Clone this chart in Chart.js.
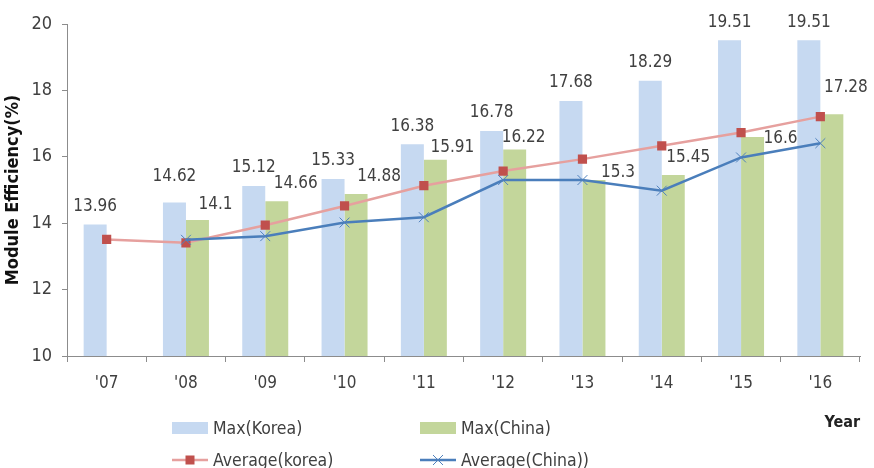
<!DOCTYPE html>
<html lang="en">
<head>
<meta charset="UTF-8">
<title>Module Efficiency</title>
<style>
    * { margin: 0; padding: 0; box-sizing: border-box; }
    body { background: #fff; width: 874px; height: 468px; overflow: hidden; }
    .chart-box { position: relative; width: 874px; height: 468px; }
</style>
</head>
<body>
<div class="chart-box"><canvas id="effChart"></canvas></div>

<script src="https://cdn.jsdelivr.net/npm/chart.js"></script>
<script>
// values
const years = ["'07", "'08", "'09", "'10", "'11", "'12", "'13", "'14", "'15", "'16"];
const maxKorea = [13.96, 14.62, 15.12, 15.33, 16.38, 16.78, 17.68, 18.29, 19.51, 19.51];
const maxChina = [null, 14.1, 14.66, 14.88, 15.91, 16.22, 15.3, 15.45, 16.6, 17.28];
const avgKorea = [13.51, 13.41, 13.94, 14.52, 15.13, 15.57, 15.93, 16.33, 16.73, 17.21];
const avgChina = [null, 13.5, 13.61, 14.02, 14.18, 15.3, 15.3, 14.98, 15.98, 16.41];
const yTicks = [10, 12, 14, 16, 18, 20];

const FONT = "'DejaVu Sans Condensed', 'DejaVu Sans', sans-serif";
const TEXT = '#404040';
const AXIS = '#8c8c8c';

// number labels over the bars (china ones were nudged by hand in the original)
const valueLabels = {
    id: 'valueLabels',
    afterDatasetsDraw(chart, args, opts) {
        const ctx = chart.ctx;
        ctx.save();
        ctx.font = opts.font;
        ctx.fillStyle = opts.color;
        ctx.textAlign = 'center';
        ctx.textBaseline = 'middle';
        opts.sets.forEach(function(s) {
            const meta = chart.getDatasetMeta(s.index);
            const values = chart.data.datasets[s.index].data;
            meta.data.forEach(function(bar, i) {
                if (values[i] == null) return;
                const shift = s.shift[i] || s.base;
                ctx.fillText(String(values[i]), bar.x + shift[0], bar.y + shift[1]);
            });
        });
        ctx.restore();
    }
};

// 2x2 legend under the axis, like the excel one
const gridLegend = {
    id: 'gridLegend',
    afterDraw(chart, args, opts) {
        const ctx = chart.ctx;
        ctx.save();
        ctx.font = opts.font;
        ctx.textBaseline = 'middle';
        ctx.textAlign = 'left';
        chart.data.datasets.forEach(function(ds, i) {
            const x = opts.cols[i % 2];
            const y = opts.rows[Math.floor(i / 2)];
            if (ds.type === 'line') {
                ctx.strokeStyle = ds.borderColor;
                ctx.lineWidth = ds.borderWidth;
                ctx.beginPath();
                ctx.moveTo(x, y);
                ctx.lineTo(x + 36, y);
                ctx.stroke();
                const mx = x + 18;
                if (ds.pointStyle === 'rect') {
                    ctx.fillStyle = ds.pointBackgroundColor;
                    ctx.fillRect(mx - 4.5, y - 4.5, 9, 9);
                } else {
                    ctx.strokeStyle = ds.pointBorderColor;
                    ctx.lineWidth = 1;
                    ctx.beginPath();
                    ctx.moveTo(mx - 5, y - 5); ctx.lineTo(mx + 5, y + 5);
                    ctx.moveTo(mx + 5, y - 5); ctx.lineTo(mx - 5, y + 5);
                    ctx.stroke();
                }
            } else {
                ctx.fillStyle = ds.backgroundColor;
                ctx.fillRect(x, y - 6, 36, 12);
            }
            ctx.fillStyle = opts.color;
            ctx.fillText(ds.label, x + 41, y + 1);
        });
        ctx.restore();
    }
};

const ctx = document.getElementById('effChart').getContext('2d');
new Chart(ctx, {
    type: 'bar',
    data: {
        labels: years,
        datasets: [
            {
                type: 'bar',
                label: 'Max(Korea)',
                data: maxKorea,
                backgroundColor: '#c6d9f1',
                barPercentage: 1,
                categoryPercentage: 0.58,
                order: 2
            },
            {
                type: 'bar',
                label: 'Max(China)',
                data: maxChina,
                backgroundColor: '#c3d69b',
                barPercentage: 1,
                categoryPercentage: 0.58,
                order: 2
            },
            {
                type: 'line',
                label: 'Average(korea)',
                data: avgKorea,
                borderColor: '#e6a09e',
                borderWidth: 2.5,
                pointStyle: 'rect',
                pointRadius: 6.5,
                pointBackgroundColor: '#c0504d',
                pointBorderColor: '#c0504d',
                pointBorderWidth: 0,
                tension: 0,
                order: 1
            },
            {
                type: 'line',
                label: 'Average(China))',
                data: avgChina,
                borderColor: '#4a7ebb',
                borderWidth: 2.5,
                pointStyle: 'crossRot',
                pointRadius: 7,
                pointBorderColor: '#4f81bd',
                pointBorderWidth: 1,
                tension: 0,
                order: 0
            }
        ]
    },
    options: {
        responsive: true,
        maintainAspectRatio: false,
        animation: false,
        layout: { padding: { top: 24, right: 14, bottom: 0, left: 0 } },
        plugins: {
            legend: { display: false },
            tooltip: { enabled: false },
            valueLabels: {
                font: '17px ' + FONT,
                color: TEXT,
                sets: [
                    { index: 0, base: [0, -18], shift: [null, [0, -26]] },
                    { index: 1, base: [18, -15], shift: [null, [18, -15], [19, -18], [23, -17], [17, -12], [9, -12], [24, -7], [15, -17], [28, 2], [14, -27]] }
                ]
            },
            gridLegend: {
                font: '17.5px ' + FONT,
                color: TEXT,
                cols: [172, 420],
                rows: [428, 460]
            }
        },
        scales: {
            x: {
                grid: { offset: true, drawOnChartArea: false, drawTicks: true, tickLength: 6, color: AXIS },
                border: { color: AXIS, width: 1 },
                ticks: { color: TEXT, font: { family: FONT, size: 17 }, padding: 11 },
                title: {
                    display: true,
                    text: 'Year',
                    align: 'end',
                    color: '#222',
                    font: { family: FONT, size: 16, weight: 'bold' },
                    padding: { top: 0, bottom: 36 }
                },
                afterFit(scale) { scale.height = 112; scale.paddingLeft = 0; scale.paddingRight = 0; }
            },
            y: {
                min: 10,
                max: 20,
                afterBuildTicks(scale) { scale.ticks = yTicks.map(function(v) { return { value: v }; }); },
                grid: { drawOnChartArea: false, drawTicks: true, tickLength: 5, color: AXIS },
                border: { color: AXIS, width: 1 },
                ticks: { color: TEXT, font: { family: FONT, size: 18 }, padding: 10 },
                title: {
                    display: true,
                    text: 'Module Efficiency(%)',
                    color: '#111',
                    font: { family: FONT, size: 18, weight: 'bold' },
                    padding: { top: 3, bottom: 0 }
                },
                afterFit(scale) { scale.width = 67; scale.paddingTop = 0; scale.paddingBottom = 0; }
            }
        }
    },
    plugins: [valueLabels, gridLegend]
});
</script>
</body>
</html>
